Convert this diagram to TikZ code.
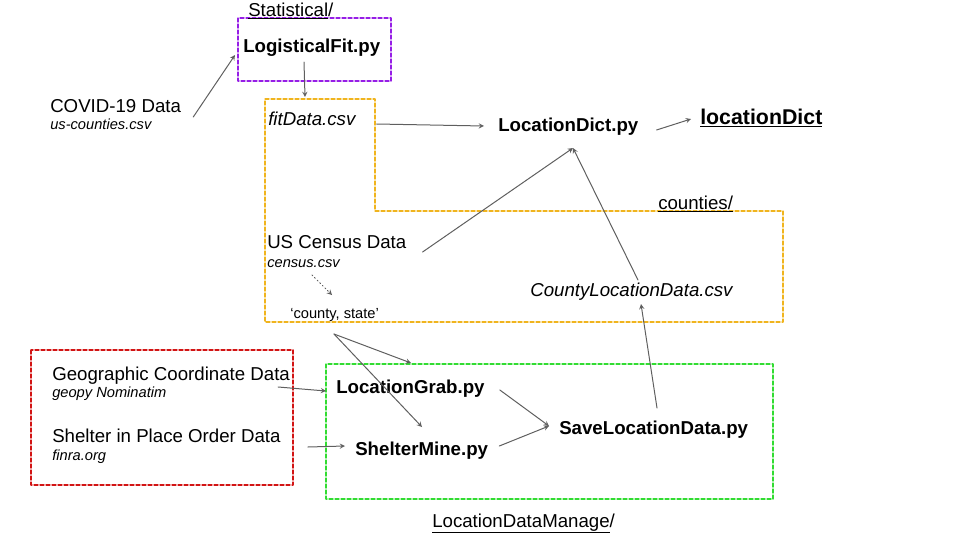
\documentclass[tikz,border=0pt]{standalone}
\usepackage{fontspec}
\setmainfont{Liberation Sans}
\usetikzlibrary{calc}
\definecolor{statpurple}{RGB}{150,30,230}
\definecolor{fitorange}{RGB}{240,180,30}
\definecolor{srcred}{RGB}{210,20,20}
\definecolor{managegreen}{RGB}{50,220,50}
\definecolor{arrowgray}{RGB}{95,95,95}
\begin{document}
\begin{tikzpicture}[
	x=0.75pt, y=-0.75pt,
	>=stealth,
	line cap=round,
	line join=round,
	txt/.style={anchor=base west,inner sep=0pt,font=\fontsize{14}{17}\selectfont},
	srcfile/.style={anchor=base west,inner sep=0pt,font=\fontsize{11}{13}\selectfont\itshape},
	script/.style={txt,font=\fontsize{14}{17}\selectfont\bfseries},
	folder/.style={dash pattern=on 3pt off 1.5pt,line width=1pt},
	flow/.style={->,draw=arrowgray,line width=0.75pt}
	]
	\useasboundingbox (0,0) rectangle (960,540);
	\draw[folder,statpurple] (238,18) rectangle (391,81);
	\draw[folder,fitorange] (265,99) -- (375,99) -- (375,211) -- (783,211) -- (783,322) -- (265,322) -- cycle;
	\draw[folder,srcred] (31,350) rectangle (293,485);
	\draw[folder,managegreen] (326,364) rectangle (773,499);

	\node[txt] (stat) at (248,16) {\underline{Statistical}/};
	\node[script] (logfit) at (243,52) {LogisticalFit.py};
	\node[txt] (covid) at (50,112) {COVID-19 Data};
	\node[srcfile] (covidcsv) at (50,129) {us-counties.csv};
	\node[txt,font=\fontsize{14}{17}\selectfont\itshape] (fitdata) at (268,125) {fitData.csv};
	\node[script] (locdictpy) at (498,131) {LocationDict.py};
	\node[script,font=\fontsize{16}{19}\selectfont\bfseries] (locdict) at (700,124) {\underline{locationDict}};
	\node[txt] (counties) at (658,209) {\underline{counties/}};
	\node[txt] (census) at (267,248) {US Census Data};
	\node[srcfile] (censuscsv) at (267,267) {census.csv};
	\node[txt,font=\fontsize{11}{13}\selectfont] (cstate) at (290,318) {‘county, state’};
	\node[txt,font=\fontsize{14}{17}\selectfont\itshape] (countyloc) at (530,296) {CountyLocationData.csv};
	\node[txt] (geo) at (52,380) {Geographic Coordinate Data};
	\node[srcfile] (geopy) at (52,397) {geopy Nominatim};
	\node[txt] (shelter) at (52,442) {Shelter in Place Order Data};
	\node[srcfile] (finra) at (52,460) {finra.org};
	\node[script] (locgrab) at (336,393) {LocationGrab.py};
	\node[script] (sheltermine) at (355,455) {ShelterMine.py};
	\node[script] (save) at (559,434) {SaveLocationData.py};
	\node[txt] (manage) at (432,527) {\underline{LocationDataManage}/};

	\begin{scope}[flow]
		\draw ($(covid.base east)+(12,5)$) -- ($(logfit.base west)+(-8,3)$);
		\draw ($(logfit.base west)+(61,10)$) -- ($(fitdata.base west)+(37,-28)$);
		\draw ($(fitdata.base east)+(21,-1)$) -- ($(locdictpy.base west)+(-14,-5)$);
		\draw ($(locdictpy.base east)+(18,-1)$) -- ($(locdict.base west)+(-9,-5)$);
		\draw ($(census.base east)+(16,4)$) -- ($(locdictpy.base west)+(75,17)$);
		\draw ($(countyloc.base west)+(108,-16)$) -- ($(locdictpy.base west)+(75,17)$);
		\draw ($(save.base west)+(98,-26)$) -- ($(countyloc.base west)+(111,8)$);
		\draw[dotted] ($(censuscsv.base west)+(45,8)$) -- ($(cstate.base west)+(42,-23)$);
		\draw ($(cstate.base west)+(44,16)$) -- ($(locgrab.base west)+(75,-30)$);
		\draw ($(cstate.base west)+(44,16)$) -- ($(sheltermine.base west)+(67,-28)$);
		\draw ($(geo.base east)+(-12,7)$) -- ($(locgrab.base west)+(-10,-2)$);
		\draw ($(shelter.base east)+(27,5)$) -- ($(sheltermine.base west)+(-10,-9)$);
		\draw ($(locgrab.base east)+(15,-3)$) -- ($(save.base west)+(-10,-8)$);
		\draw ($(sheltermine.base east)+(11,-9)$) -- ($(save.base west)+(-10,-8)$);
	\end{scope}
\end{tikzpicture}
\end{document}
